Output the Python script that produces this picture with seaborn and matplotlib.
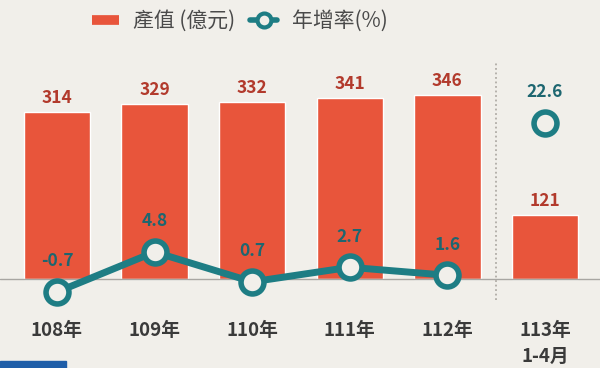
import numpy as np
import pandas as pd
import matplotlib
matplotlib.use("Agg")
import matplotlib.pyplot as plt
from matplotlib.lines import Line2D
from matplotlib.patches import Rectangle
import seaborn as sns

# Data
years = ["108年", "109年", "110年", "111年", "112年", "113年\n1-4月"]
output_value = [314, 329, 332, 341, 346, 121]   # 產值 (億元)
growth_rate = [-0.7, 4.8, 0.7, 2.7, 1.6, 22.6]   # 年增率(%)

bar_color = "#e8553b"
bar_text = "#b23a2c"
teal = "#1e7d84"
teal_text = "#1d6670"
bg = "#f1efea"

sns.set_theme(style="white")
plt.rcParams["font.family"] = ["Noto Sans CJK TC", "DejaVu Sans"]

df = pd.DataFrame({"year": years, "value": output_value, "growth": growth_rate})
pos = np.arange(len(years))

fig = plt.figure(figsize=(6, 3.68), dpi=100, facecolor=bg)
ax = fig.add_axes([0, 0.1848, 1, 0.7065])
ax.set_facecolor(bg)

sns.barplot(data=df, x="year", y="value", color=bar_color, width=0.68,
            saturation=1, ax=ax)
ax.set_xlim(-0.584, 5.564)
ax.set_ylim(-39.5, 449.2)
ax.axhline(0, color="#a8a6a2", lw=1, zorder=1)
# dotted divider before the partial year
ax.axvline(4.5, ymin=0.0, ymax=0.92, color="#b0aca6", lw=1.3, ls=(0, (1, 1.5)), zorder=1)

for i, v in enumerate(output_value):
    ax.annotate(str(v), (pos[i], v), xytext=(0, 10), textcoords="offset points",
                ha="center", va="center", fontsize=12.5, fontweight="bold", color=bar_text)

ax.set_xlabel("")
ax.set_ylabel("")
ax.set_yticks([])
ax.tick_params(axis="x", length=0, pad=15, labelsize=13.5, labelcolor="#3a3a3a")
for lab in ax.get_xticklabels():
    lab.set_fontweight("bold")
    lab.set_linespacing(1.45)
sns.despine(ax=ax, left=True, bottom=True)

# growth rate on a second axis
ax2 = ax.twinx()
ax2.set_ylim(-1.80, 33.96)
sns.lineplot(x=pos[:5], y=growth_rate[:5], ax=ax2, color=teal, lw=5,
             marker="o", markersize=16.5, markeredgewidth=4,
             markerfacecolor=bg, markeredgecolor=teal, clip_on=False, zorder=5)
sns.lineplot(x=pos[5:], y=growth_rate[5:], ax=ax2, color=teal, lw=0,
             marker="o", markersize=16.5, markeredgewidth=4,
             markerfacecolor=bg, markeredgecolor=teal, clip_on=False, zorder=5)
for i, g in enumerate(growth_rate):
    ax2.annotate(f"{g}", (pos[i], g), xytext=(0, 22), textcoords="offset points",
                 ha="center", va="center", fontsize=12.5, fontweight="bold", color=teal_text)
ax2.set_yticks([])
ax2.set_ylabel("")
sns.despine(ax=ax2, left=True, bottom=True, right=True)

# legend
handles = [
    Line2D([], [], color=bar_color, lw=7, solid_capstyle="butt"),
    Line2D([], [], color=teal, lw=4, marker="o", markersize=10, markeredgewidth=3,
           markerfacecolor=bg, markeredgecolor=teal),
]
fig.legend(handles, ["產值 (億元)", "年增率(%)"], loc="center left",
           bbox_to_anchor=(73 / 600, 1 - 21 / 368), ncol=2, frameon=False,
           fontsize=15, handlelength=1.3, handletextpad=0.7, columnspacing=0.7,
           labelcolor="#4a4a4a")

fig.add_artist(Rectangle((0, 0), 66 / 600, 7 / 368, transform=fig.transFigure,
                         color="#1f5ea8", zorder=10))

fig.savefig("out.png", dpi=100, facecolor=bg)
